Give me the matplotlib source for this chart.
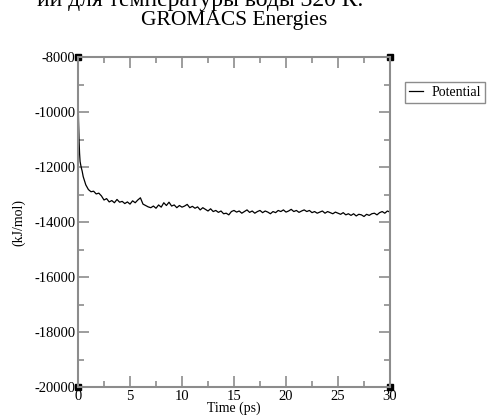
import numpy as np
from matplotlib import pyplot as plt

plt.rcParams['font.family'] = ['Liberation Serif', 'DejaVu Serif']
plt.rcParams['axes.unicode_minus'] = False

# time (ps): dense at the very start, then every 0.25 ps
time_head = [0, 0.05, 0.1, 0.15, 0.2, 0.3, 0.4]
time_body = list(np.arange(0.5, 30.001, 0.25))
time_ps = time_head + time_body

potential = [
    -9270, -10300, -11000, -11500, -11800, -12000, -12150,
    -12350, -12650, -12820,
    -12900, -12880, -12980, -12950,
    -13050, -13200, -13150, -13270,
    -13220, -13300, -13180, -13280,
    -13250, -13330, -13270, -13350,
    -13230, -13300, -13200, -13120,
    -13350, -13400, -13450, -13480,
    -13420, -13500, -13380, -13460,
    -13300, -13400, -13280, -13420,
    -13380, -13480, -13400, -13460,
    -13420, -13360, -13480, -13430,
    -13500, -13450, -13560, -13480,
    -13540, -13600, -13520, -13620,
    -13580, -13650, -13600, -13700,
    -13680, -13740, -13620, -13580,
    -13640, -13600, -13680, -13620,
    -13560, -13650, -13600, -13680,
    -13620, -13580, -13660, -13600,
    -13640, -13700, -13620, -13660,
    -13580, -13620, -13560, -13640,
    -13600, -13540, -13620, -13580,
    -13650, -13600, -13560, -13620,
    -13580, -13660, -13620, -13680,
    -13640, -13600, -13680, -13620,
    -13660, -13700, -13640, -13680,
    -13720, -13660, -13740, -13700,
    -13760, -13700, -13780, -13720,
    -13740, -13800, -13720, -13760,
    -13700, -13680, -13740, -13660,
    -13620, -13680, -13600, -13640,
]

fig = plt.figure(figsize=(4.88, 4.16), dpi=100)
ax = fig.add_axes([78 / 488, 29 / 416, 312 / 488, 330 / 416])

ax.plot(time_ps, potential, color='black', lw=0.9, label='Potential')

ax.set_xlim(0, 30)
ax.set_ylim(-20000, -8000)
ax.set_xticks(range(0, 31, 5))
ax.set_xticks(np.arange(0, 30.1, 2.5), minor=True)
ax.set_yticks(range(-20000, -7999, 2000))
ax.set_yticks(range(-20000, -7999, 1000), minor=True)

grey = '#8c8c8c'
for s in ax.spines.values():
    s.set_color(grey)
    s.set_linewidth(1.5)
ax.tick_params(which='both', direction='in', top=True, right=True,
               color=grey, width=1.2, labelsize=10.5, pad=2)
ax.tick_params(which='major', length=8)
ax.tick_params(which='minor', length=4)

# corner squares
ax.plot([0, 1, 0, 1], [0, 0, 1, 1], 's', color='black', ms=4,
        transform=ax.transAxes, clip_on=False)

ax.set_xlabel('Time (ps)', fontsize=10, labelpad=-1)
ax.set_ylabel('(kJ/mol)', fontsize=10, labelpad=6)
fig.text(234 / 488, 1 - 21 / 416, 'GROMACS Energies', ha='center', va='center',
         fontsize=15.5)
fig.text(363 / 488, 1 - 6 / 416, 'ии для температуры воды 320 К.', ha='right',
         va='baseline', fontsize=17)

ax.legend(loc='upper left', bbox_to_anchor=(405 / 488, 1 - 82 / 416),
          bbox_transform=fig.transFigure, fancybox=False, edgecolor=grey,
          framealpha=1, fontsize=10, handlelength=1.0, handletextpad=0.6,
          borderpad=0.3, borderaxespad=0)

fig.savefig('out.png', dpi=100)
